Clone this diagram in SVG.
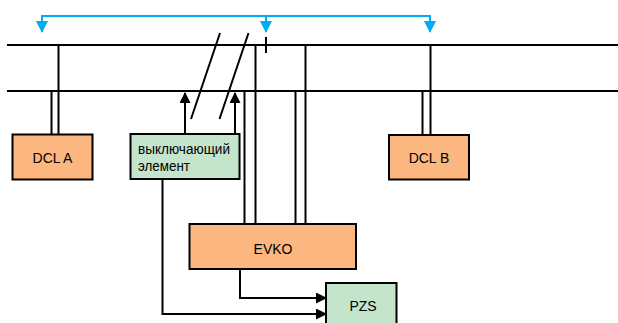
<svg xmlns="http://www.w3.org/2000/svg" width="618" height="323" viewBox="0 0 618 323">
  <style>
    .ln { stroke: #000; stroke-width: 2; fill: none; }
    .blue { stroke: #00aeef; stroke-width: 2; fill: none; }
    .dcl { fill: #fbb77f; stroke: #000; stroke-width: 2; }
    .grn { fill: #c4e4cc; stroke: #000; stroke-width: 2; }
    .lbl { font-family: "Liberation Sans", Arial, sans-serif; font-size: 14px; fill: #000; text-anchor: middle; }
    .ru { font-family: "Liberation Sans", Arial, sans-serif; font-size: 14px; fill: #000; }
  </style>
  <defs>
    <marker id="arr" markerWidth="11" markerHeight="11" refX="10" refY="5.5" orient="auto" markerUnits="userSpaceOnUse">
      <path d="M0,0 L11,5.5 L0,11 Z" fill="#000"/>
    </marker>
    <marker id="barr" markerWidth="12" markerHeight="12" refX="11" refY="6" orient="auto" markerUnits="userSpaceOnUse">
      <path d="M0,0 L12,6 L0,12 Z" fill="#00aeef"/>
    </marker>
  </defs>

  <!-- bus lines -->
  <g id="buses">
    <line class="ln" x1="7" y1="45" x2="618" y2="45"/>
    <line class="ln" x1="7" y1="91" x2="618" y2="91"/>
  </g>

  <g id="connectors">
    <!-- blue distribution bracket -->
    <line class="blue" x1="42" y1="16" x2="430" y2="16"/>
    <line class="blue" x1="42" y1="15" x2="42" y2="32" marker-end="url(#barr)"/>
    <line class="blue" x1="266" y1="16" x2="266" y2="32" marker-end="url(#barr)"/>
    <line class="blue" x1="430" y1="15" x2="430" y2="32" marker-end="url(#barr)"/>
    <!-- tick on top bus -->
    <line class="ln" x1="266" y1="37" x2="266" y2="53"/>
    <!-- DCL A taps -->
    <line class="ln" x1="58.5" y1="45" x2="58.5" y2="134"/>
    <line class="ln" x1="51.5" y1="91" x2="51.5" y2="134"/>
    <!-- DCL B taps -->
    <line class="ln" x1="430.5" y1="45" x2="430.5" y2="135"/>
    <line class="ln" x1="422.5" y1="91" x2="422.5" y2="135"/>
    <!-- EVKO taps -->
    <line class="ln" x1="255.5" y1="45" x2="255.5" y2="224"/>
    <line class="ln" x1="244.5" y1="91" x2="244.5" y2="224"/>
    <line class="ln" x1="305.5" y1="45" x2="305.5" y2="224"/>
    <line class="ln" x1="295.5" y1="91" x2="295.5" y2="224"/>
    <!-- breaker slashes -->
    <line class="ln" x1="220" y1="33" x2="191" y2="119"/>
    <line class="ln" x1="248.5" y1="33" x2="219.5" y2="119"/>
    <!-- breaker control arrows -->
    <line class="ln" x1="185" y1="134" x2="185" y2="93" marker-end="url(#arr)"/>
    <line class="ln" x1="235" y1="134" x2="235" y2="93" marker-end="url(#arr)"/>
    <!-- to PZS -->
    <polyline class="ln" points="240,269 240,298 326,298" marker-end="url(#arr)"/>
    <polyline class="ln" points="162.5,179 162.5,314 326,314" marker-end="url(#arr)"/>
  </g>

  <g id="dcl-a">
    <rect class="dcl" x="12.5" y="134.5" width="80" height="45"/>
    <text class="lbl" x="52.5" y="162.5">DCL A</text>
  </g>

  <g id="dcl-b">
    <rect class="dcl" x="389" y="135" width="80" height="44.5"/>
    <text class="lbl" x="429" y="162.5">DCL B</text>
  </g>

  <g id="switch-element">
    <rect class="grn" x="130.5" y="134" width="109" height="45"/>
    <text class="ru" x="138" y="153.5" textLength="92" lengthAdjust="spacingAndGlyphs">выключающий</text>
    <text class="ru" x="138" y="170.5" textLength="52" lengthAdjust="spacingAndGlyphs">элемент</text>
  </g>

  <g id="evko">
    <rect class="dcl" x="189.5" y="224" width="166.5" height="45"/>
    <text class="lbl" x="273" y="254">EVKO</text>
  </g>

  <g id="pzs">
    <rect class="grn" x="326" y="283" width="70.5" height="50"/>
    <text class="lbl" x="363" y="311">PZS</text>
  </g>
</svg>
